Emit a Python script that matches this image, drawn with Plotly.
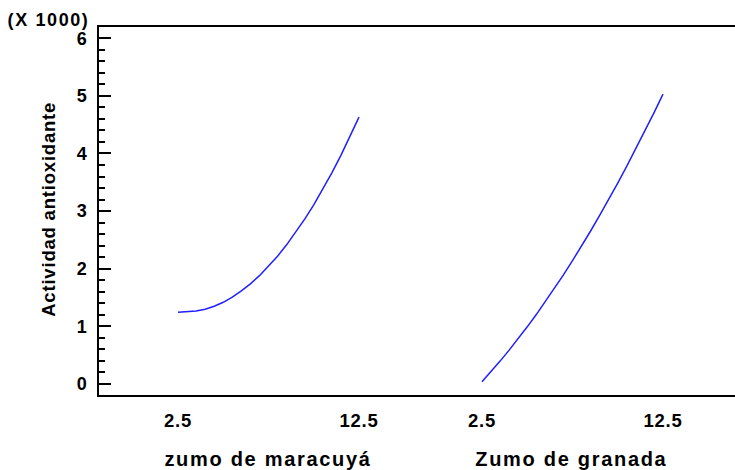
import plotly.graph_objects as go

# Factor levels (% of juice) at which the fitted response is plotted
x_levels = [2.5, 3.0, 3.5, 4.0, 4.5, 5.0, 5.5, 6.0, 6.5, 7.0, 7.5,
            8.0, 8.5, 9.0, 9.5, 10.0, 10.5, 11.0, 11.5, 12.0, 12.5]

# Fitted antioxidant activity for each factor
actividad_maracuya = [1245, 1252, 1268, 1298, 1348, 1418, 1507, 1615, 1738, 1880, 2040,
                      2218, 2415, 2630, 2860, 3110, 3380, 3665, 3968, 4290, 4630]
actividad_granada = [40, 212, 397, 588, 786, 992, 1205, 1428, 1658, 1894, 2140,
                     2393, 2655, 2925, 3200, 3487, 3780, 4082, 4390, 4706, 5030]

factor_names = ["zumo de maracuyá", "Zumo de granada"]
level_ticks = [2.5, 12.5]
level_tick_text = ["2.5", "12.5"]
y_ticks = [0, 1000, 2000, 3000, 4000, 5000, 6000]
y_tick_text = ["0", "1", "2", "3", "4", "5", "6"]
y_title = "Actividad antioxidante"
y_scale_note = "(X 1000)"

FONT = "Liberation Sans, Arial, sans-serif"
LINE_BLUE = "#1f1fff"
Y_RANGE = [-191, 6195]

fig = go.Figure()
fig.add_trace(go.Scatter(x=x_levels, y=actividad_maracuya, mode="lines",
                         line=dict(color=LINE_BLUE, width=1.5),
                         xaxis="x", yaxis="y", showlegend=False, hoverinfo="skip"))
fig.add_trace(go.Scatter(x=x_levels, y=actividad_granada, mode="lines",
                         line=dict(color=LINE_BLUE, width=1.5),
                         xaxis="x2", yaxis="y", showlegend=False, hoverinfo="skip"))

xcommon = dict(showline=True, linecolor="black", linewidth=2, mirror=True,
               ticks="", tickvals=level_ticks, ticktext=level_tick_text,
               tickfont=dict(family=FONT, size=18.5, color="black", weight="bold"),
               showgrid=False, zeroline=False, ticklabelstandoff=8, anchor="y")

fig.update_layout(
    width=735, height=470,
    margin=dict(l=99, r=0, t=27, b=75),
    paper_bgcolor="white", plot_bgcolor="white",
    font=dict(family=FONT, color="black"),
    xaxis=dict(domain=[0, 0.5055], range=[-1.865, 15.898], **xcommon),
    xaxis2=dict(domain=[0.5055, 1], range=[-0.898, 16.478], **xcommon),
    yaxis=dict(range=Y_RANGE, anchor="x", side="left",
               showline=True, linecolor="black", linewidth=1.5,
               ticks="inside", ticklen=12, tickwidth=1.5, tickcolor="black",
               tickvals=y_ticks, ticktext=y_tick_text,
               minor=dict(ticks="inside", ticklen=6, tickwidth=1.5, tickcolor="black",
                          tick0=0, dtick=200, showgrid=False),
               tickfont=dict(family=FONT, size=18, color="black", weight="bold"),
               ticklabelstandoff=7, showgrid=False, zeroline=False),
    yaxis2=dict(range=Y_RANGE, overlaying="y", anchor="x2", side="right",
                showline=False, ticks="inside", ticklen=6, tickwidth=1.5,
                tickcolor="black", tickvals=y_ticks, showticklabels=False,
                showgrid=False, zeroline=False),
    annotations=[
        dict(text=y_scale_note, xref="paper", yref="paper", x=0, y=1,
             xshift=-51, yshift=7.5, showarrow=False, xanchor="center", yanchor="middle",
             font=dict(family=FONT, size=18, color="black", weight="bold")),
        dict(text=y_title, xref="paper", yref="paper", x=0, y=0.5,
             xshift=-51, yshift=1, textangle=-90, showarrow=False,
             xanchor="center", yanchor="middle",
             font=dict(family=FONT, size=18.5, color="black", weight="bold")),
        dict(text=factor_names[0], xref="x", yref="paper", x=7.5, y=0,
             yshift=-64, showarrow=False, xanchor="center", yanchor="middle",
             font=dict(family=FONT, size=20, color="black", weight="bold")),
        dict(text=factor_names[1], xref="x2", yref="paper", x=7.5, y=0,
             yshift=-64, showarrow=False, xanchor="center", yanchor="middle",
             font=dict(family=FONT, size=20, color="black", weight="bold")),
    ],
)

# Wider tracking for the axis texts
spacing_js = """
var gd = document.getElementById('{plot_id}');
function track(sel, px) {
  gd.querySelectorAll(sel).forEach(function (t) { t.style.letterSpacing = px; });
}
gd.querySelectorAll('text.annotation-text').forEach(function (t) {
  var s = t.textContent;
  if (s.indexOf('zumo') >= 0 || s.indexOf('Zumo') >= 0) { t.style.letterSpacing = '1.7px'; }
  else if (s.indexOf('Actividad') >= 0) { t.style.letterSpacing = '0.8px'; }
  else { t.style.letterSpacing = '1.6px'; }
});
track('g.xtick text', '0.8px');
track('g.x2tick text', '0.8px');
"""

fig.write_html("out.html", post_script=spacing_js)
